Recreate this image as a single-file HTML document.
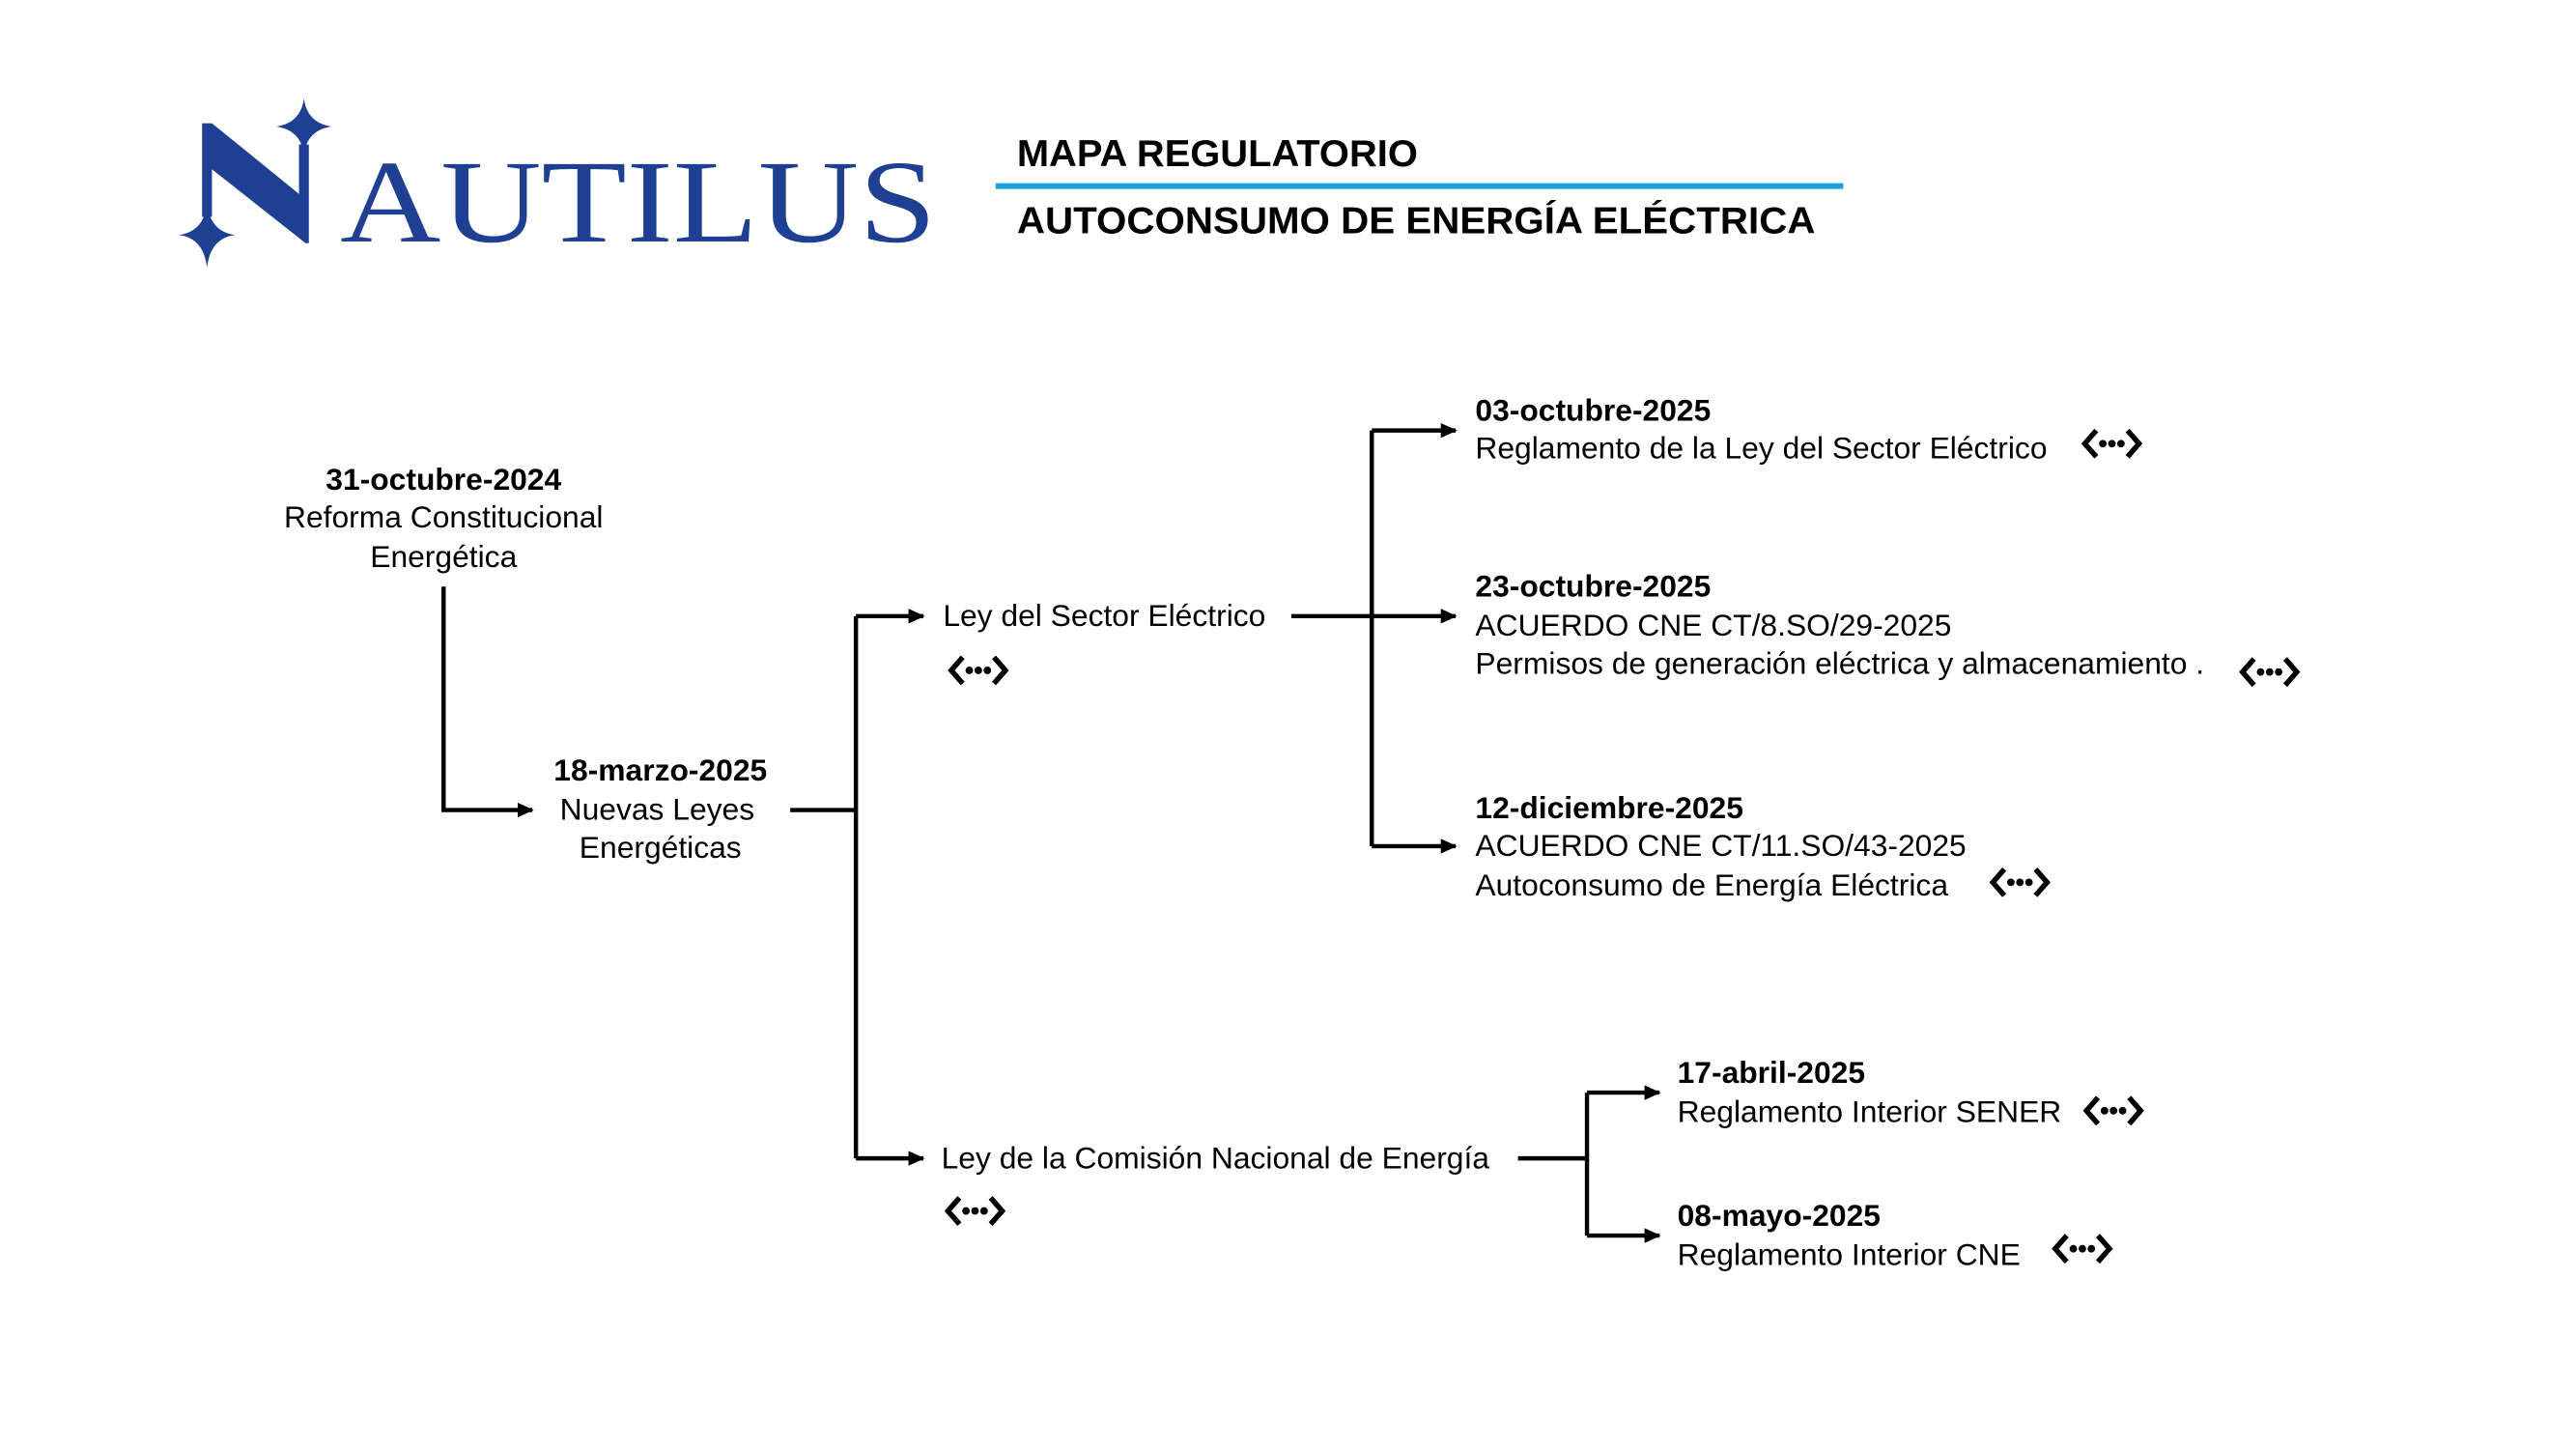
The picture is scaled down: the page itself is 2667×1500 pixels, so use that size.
<!DOCTYPE html>
<html><head><meta charset="utf-8"><style>
html,body{margin:0;padding:0;background:#fff;width:2667px;height:1500px;overflow:hidden}
#w{width:1568px;height:882px;transform:scale(1.7009);transform-origin:0 0}
svg text{font-family:"Liberation Sans",sans-serif;font-size:18.7px;fill:#000}
svg text.b{font-weight:bold}
</style></head><body><div id="w">
<svg width="1568" height="882" viewBox="0 0 1568 882" xmlns="http://www.w3.org/2000/svg">
<defs>
<marker id="ah" markerWidth="10" markerHeight="10" refX="9" refY="5" orient="auto" markerUnits="userSpaceOnUse"><path d="M0,0.5 L10,5 L0,9.5Z" fill="#000"/></marker>
<g id="ic"><path d="M9,2 L2,10 L9,18" fill="none" stroke="#000" stroke-width="3.2"/><path d="M28,2 L35,10 L28,18" fill="none" stroke="#000" stroke-width="3.2"/><circle cx="13" cy="10" r="2.3"/><circle cx="18.5" cy="10" r="2.3"/><circle cx="24" cy="10" r="2.3"/></g>
</defs>
<g fill="#1f3f93">
<polygon points="123,75 129,75 182,118 182,88 188,88 188,148 186,148 129,103 129,132 123,132"/>
<path d="M185,60 Q187,75 202,77 Q187,79 185,94 Q183,79 168,77 Q183,75 185,60Z"/>
<path d="M126,124 Q128,141 143,143 Q128,145 126,163 Q124,145 109,143 Q124,141 126,124Z"/>
<text x="207" y="147" textLength="363" lengthAdjust="spacingAndGlyphs" style="font-family:'Liberation Serif',serif;font-size:72px;fill:#1f3f93">AUTILUS</text>
</g>
<text x="619" y="101" class="b" style="font-size:23px" textLength="244" lengthAdjust="spacingAndGlyphs">MAPA REGULATORIO</text>
<rect x="606" y="111.5" width="516" height="3.5" fill="#1ba1db"/>
<text x="619" y="142" class="b" style="font-size:23px" textLength="486" lengthAdjust="spacingAndGlyphs">AUTOCONSUMO DE ENERGÍA ELÉCTRICA</text>
<g stroke="#000" stroke-width="2.6" fill="none">
<path d="M270,357 V493 H324" marker-end="url(#ah)"/>
<path d="M481,493 H521"/>
<path d="M521,375 V705"/>
<path d="M521,375 H562" marker-end="url(#ah)"/>
<path d="M521,705 H562" marker-end="url(#ah)"/>
<path d="M786,375 H886" marker-end="url(#ah)"/>
<path d="M835,262 V515"/>
<path d="M835,262 H886" marker-end="url(#ah)"/>
<path d="M835,515 H886" marker-end="url(#ah)"/>
<path d="M924,705 H966"/>
<path d="M966,665 V752"/>
<path d="M966,665 H1010" marker-end="url(#ah)"/>
<path d="M966,752 H1010" marker-end="url(#ah)"/>
</g>
<g text-anchor="middle">
<text x="270" y="298" class="b">31-octubre-2024</text>
<text x="270" y="321">Reforma Constitucional</text>
<text x="270" y="345">Energética</text>
<text x="402" y="475" class="b">18-marzo-2025</text>
<text x="400" y="499">Nuevas Leyes</text>
<text x="402" y="522">Energéticas</text>
</g>
<text x="574" y="381">Ley del Sector Eléctrico</text>
<text x="573" y="711">Ley de la Comisión Nacional de Energía</text>
<text x="898" y="256" class="b">03-octubre-2025</text>
<text x="898" y="279">Reglamento de la Ley del Sector Eléctrico</text>
<text x="898" y="363" class="b">23-octubre-2025</text>
<text x="898" y="387">ACUERDO CNE CT/8.SO/29-2025</text>
<text x="898" y="410">Permisos de generación eléctrica y almacenamiento .</text>
<text x="898" y="498" class="b">12-diciembre-2025</text>
<text x="898" y="521">ACUERDO CNE CT/11.SO/43-2025</text>
<text x="898" y="545">Autoconsumo de Energía Eléctrica</text>
<text x="1021" y="659" class="b">17-abril-2025</text>
<text x="1021" y="683">Reglamento Interior SENER</text>
<text x="1021" y="746" class="b">08-mayo-2025</text>
<text x="1021" y="770">Reglamento Interior CNE</text>
<use href="#ic" x="1267" y="260"/>
<use href="#ic" x="1363" y="399"/>
<use href="#ic" x="1211" y="527"/>
<use href="#ic" x="577" y="398"/>
<use href="#ic" x="575" y="727"/>
<use href="#ic" x="1268" y="666"/>
<use href="#ic" x="1249" y="750"/>
</svg>
</div></body></html>
